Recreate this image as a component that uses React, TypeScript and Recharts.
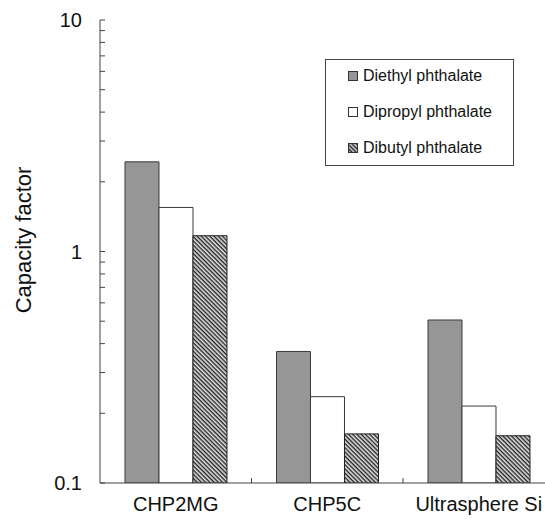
import { BarChart, Bar, XAxis, YAxis } from 'recharts';

const columns = ['CHP2MG', 'CHP5C', 'Ultrasphere Si'];
const diethyl = [2.44, 0.37, 0.506];
const dipropyl = [1.55, 0.236, 0.215];
const dibutyl = [1.17, 0.163, 0.16];
const yTicks = [0.1, 0.2, 0.3, 0.4, 0.5, 0.6, 0.7, 0.8, 0.9, 1, 2, 3, 4, 5, 6, 7, 8, 9, 10];
const yLabels = [0.1, 1, 10];

const data = columns.map((name, i) => ({
  name,
  'Diethyl phthalate': diethyl[i],
  'Dipropyl phthalate': dipropyl[i],
  'Dibutyl phthalate': dibutyl[i],
}));

const FONT = 'Arial, "Liberation Sans", sans-serif';
const AXIS = '#444';
const CHART_W = 560;
const LEFT = 100;
const RIGHT = 5.5;
const BAND = (CHART_W - LEFT - RIGHT) / columns.length;

const YTick = (props: any) => {
  const { x, y, payload } = props;
  const axisX = x + 18;
  const v = payload.value;
  const major = yLabels.some((m) => Math.abs(m - v) < 1e-9);
  return (
    <g>
      <line x1={axisX} x2={axisX + 5} y1={y} y2={y} stroke={AXIS} />
      {major && (
        <text x={x} y={y} textAnchor="end" dominantBaseline="central" fontSize={20} fontFamily={FONT} fill="#111">
          {v}
        </text>
      )}
    </g>
  );
};

const XTick = (props: any) => {
  const { x, y, payload } = props;
  const axisY = y - 14;
  return (
    <g>
      <line x1={x + BAND / 2} x2={x + BAND / 2} y1={axisY} y2={axisY - 5} stroke={AXIS} />
      <text x={x} y={y} textAnchor="middle" dominantBaseline="hanging" fontSize={20} fontFamily={FONT} fill="#111">
        {payload.value}
      </text>
    </g>
  );
};

const YLabel = () => (
  <text
    x={23}
    y={240}
    transform="rotate(-90 23 240)"
    textAnchor="middle"
    dominantBaseline="central"
    fontSize={22}
    fontFamily={FONT}
    fill="#111"
  >
    Capacity factor
  </text>
);

const swatches = [
  { label: 'Diethyl phthalate', fill: '#969696' },
  { label: 'Dipropyl phthalate', fill: '#fff' },
  { label: 'Dibutyl phthalate', fill: 'url(#hatchIcon)' },
];

const LegendBox = () => (
  <div
    style={{
      position: 'absolute',
      left: 325,
      top: 59,
      width: 187,
      height: 105,
      border: '1px solid #444',
      background: '#fff',
      fontFamily: FONT,
      fontSize: 16,
      color: '#111',
    }}
  >
    {swatches.map((s, i) => (
      <div key={s.label} style={{ position: 'absolute', left: 22, top: 6 + i * 36, height: 20, display: 'flex', alignItems: 'center' }}>
        <svg width={10} height={10} style={{ marginRight: 5 }}>
          <defs>
            <pattern id="hatchIcon" patternUnits="userSpaceOnUse" width={3} height={3} patternTransform="rotate(45)">
              <rect width={3} height={3} fill="#ddd" />
              <rect width={3} height={1.5} fill="#222" />
            </pattern>
          </defs>
          <rect x={0.5} y={0.5} width={9} height={9} fill={s.fill} stroke="#333" />
        </svg>
        <span>{s.label}</span>
      </div>
    ))}
  </div>
);

export default function App() {
  return (
    <div style={{ position: 'absolute', left: 0, top: 0, width: 545, height: 519, overflow: 'hidden', background: '#fff' }}>
      <BarChart
        width={CHART_W}
        height={519}
        data={data}
        margin={{ top: 20, right: RIGHT, left: 0, bottom: 6 }}
        barCategoryGap="16.5%"
        barGap={0}
      >
        <defs>
          <pattern id="hatch" patternUnits="userSpaceOnUse" width={3} height={3} patternTransform="rotate(45)">
            <rect width={3} height={3} fill="#e4e4e4" />
            <rect width={3} height={1.4} fill="#222" />
          </pattern>
        </defs>
        <XAxis
          dataKey="name"
          axisLine={{ stroke: AXIS }}
          tickLine={false}
          tickSize={0}
          tickMargin={14}
          height={30}
          tick={<XTick />}
          interval={0}
        />
        <XAxis xAxisId="top" dataKey="name" orientation="top" axisLine={{ stroke: AXIS }} tick={false} tickLine={false} height={0} />
        <YAxis
          scale="log"
          domain={[0.1, 10]}
          ticks={yTicks}
          interval={0}
          allowDataOverflow
          width={LEFT}
          axisLine={{ stroke: AXIS }}
          tickLine={false}
          tickSize={0}
          tickMargin={18}
          tick={<YTick />}
          label={{ content: <YLabel /> }}
        />
        <Bar dataKey="Diethyl phthalate" fill="#969696" stroke="#3a3a3a" isAnimationActive={false} />
        <Bar dataKey="Dipropyl phthalate" fill="#fff" stroke="#3a3a3a" isAnimationActive={false} />
        <Bar dataKey="Dibutyl phthalate" fill="url(#hatch)" stroke="#222" isAnimationActive={false} />
      </BarChart>
      <LegendBox />
    </div>
  );
}
